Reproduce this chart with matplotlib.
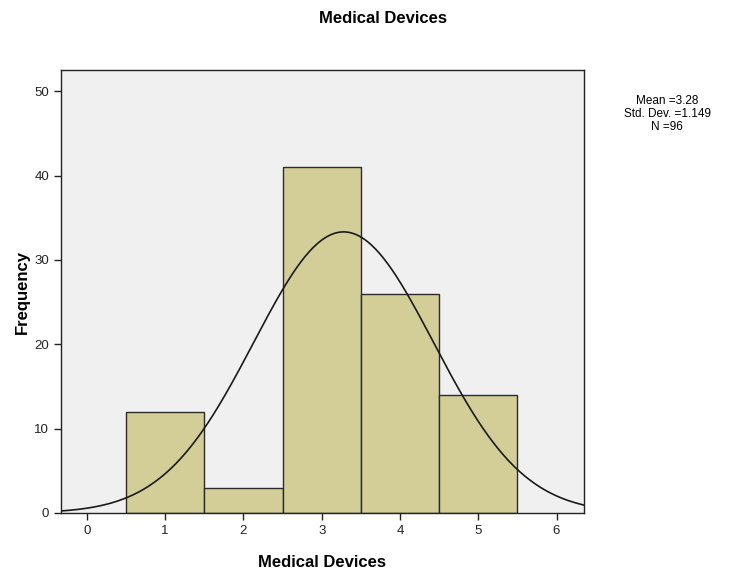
import numpy as np
import matplotlib
matplotlib.use("Agg")
import matplotlib.pyplot as plt

plt.rcParams['font.family'] = ['Liberation Sans', 'DejaVu Sans']

# Data
categories = [1, 2, 3, 4, 5]
frequencies = [12, 3, 41, 26, 14]
mean_val = 3.28
std_val = 1.149
n_val = 96
xticks = [0, 1, 2, 3, 4, 5, 6]
yticks = [0, 10, 20, 30, 40, 50]

fig = plt.figure(figsize=(7.29, 5.71), dpi=100)
ax = fig.add_axes([0.0837, 0.1016, 0.7173, 0.7754])
ax.set_facecolor('#F0F0F0')

ax.bar(categories, frequencies, width=1.0, color='#D3CE97', edgecolor='#2b2b2b', linewidth=1.0, zorder=2)

xs = np.linspace(-0.33, 6.35, 400)
ys = n_val * 1.0 / (std_val * np.sqrt(2 * np.pi)) * np.exp(-0.5 * ((xs - mean_val) / std_val) ** 2)
ax.plot(xs, ys, color='#1a1a1a', linewidth=1.2, zorder=3)

ax.set_xlim(-0.33, 6.35)
ax.set_ylim(0, 52.5)
ax.set_xticks(xticks)
ax.set_yticks(yticks)
ax.tick_params(direction='out', length=5, width=1, labelsize=9.5, colors='#222222')
for s in ax.spines.values():
    s.set_linewidth(1.0)
    s.set_color('#222222')

ax.set_xlabel('Medical Devices', fontsize=12, fontweight='bold', labelpad=13)
ax.set_ylabel('Frequency', fontsize=12, fontweight='bold', labelpad=3)
fig.text(0.525, 0.968, 'Medical Devices', ha='center', va='center', fontsize=12, fontweight='bold')

fig.text(0.915, 0.834, 'Mean =3.28\nStd. Dev. =1.149\nN =96', ha='center', va='top',
         fontsize=8.5, linespacing=1.1)

fig.savefig('out.png', dpi=100)
